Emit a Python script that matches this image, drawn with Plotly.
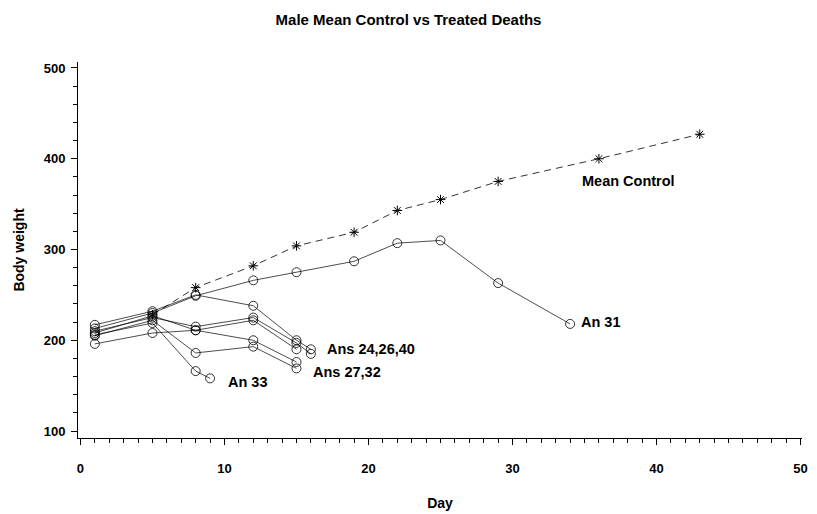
import plotly.graph_objects as go

# ---- data ----
ctrl_days = [5, 8, 12, 15, 19, 22, 25, 29, 36, 43]
ctrl_wt = [228, 258, 282, 304, 319, 343, 355, 375, 400, 427]

an31_days = [1, 5, 8, 12, 15, 19, 22, 25, 29, 34]
an31_wt = [213, 230, 249, 266, 275, 287, 307, 310, 263, 218]

an24_days = [1, 5, 8, 12, 15, 16]
an24_wt = [217, 232, 250, 238, 200, 190]

an26_days = [1, 5, 8, 12, 15, 16]
an26_wt = [210, 225, 215, 225, 197, 185]

an40_days = [1, 5, 8, 12, 15]
an40_wt = [196, 208, 211, 222, 190]

an27_days = [1, 5, 8, 12, 15]
an27_wt = [208, 227, 211, 200, 176]

an32_days = [1, 5, 8, 12, 15]
an32_wt = [205, 222, 186, 193, 169]

an33_days = [1, 5, 8, 9]
an33_wt = [206, 219, 166, 158]

labels = ["Mean Control", "An 31", "Ans 24,26,40", "Ans 27,32", "An 33"]
label_x = [34.7, 34.6, 17.0, 16.0, 10.1]
label_y = [375, 220, 190, 165, 154]

title = "Male Mean Control vs Treated Deaths"
x_title = "Day"
y_title = "Body weight"
x_ticks = [0, 10, 20, 30, 40, 50]
y_ticks = [100, 200, 300, 400, 500]

FONT = "Liberation Sans, Arial, sans-serif"

fig = go.Figure()

fig.add_trace(go.Scatter(
    x=ctrl_days, y=ctrl_wt, mode="lines+markers", name="Mean Control",
    line=dict(color="black", width=0.8, dash="7px,5px"),
    marker=dict(symbol="asterisk-open", size=8, color="black",
                line=dict(color="black", width=1)),
))

for d, w, nm in [(an31_days, an31_wt, "An 31"), (an24_days, an24_wt, "An 24"),
                 (an26_days, an26_wt, "An 26"), (an40_days, an40_wt, "An 40"),
                 (an27_days, an27_wt, "An 27"), (an32_days, an32_wt, "An 32"),
                 (an33_days, an33_wt, "An 33")]:
    fig.add_trace(go.Scatter(
        x=d, y=w, mode="lines+markers", name=nm,
        line=dict(color="black", width=0.7),
        marker=dict(symbol="circle-open", size=9, color="black",
                    line=dict(color="black", width=0.8)),
    ))

for t, lx, ly in zip(labels, label_x, label_y):
    fig.add_annotation(x=lx, y=ly, text=t, showarrow=False, xanchor="left",
                       yanchor="middle",
                       font=dict(family=FONT, size=14.5, color="black", weight="bold"))

fig.update_layout(
    width=817, height=514,
    margin=dict(l=78, r=15, t=62, b=76),
    paper_bgcolor="white", plot_bgcolor="white",
    showlegend=False,
    title=dict(text=title, x=0.5, xref="container", y=1 - 20 / 514,
               yref="container", yanchor="middle", xanchor="center",
               font=dict(family=FONT, size=15, color="black", weight="bold")),
    font=dict(family=FONT, color="black"),
)

fig.update_xaxes(
    range=[-0.17, 50.1], showgrid=False, zeroline=False, automargin=False,
    showline=True, linecolor="black", linewidth=1,
    tickmode="array", tickvals=x_ticks, ticktext=[str(v) for v in x_ticks],
    ticks="outside", ticklen=6, tickwidth=1, tickcolor="black",
    ticklabelstandoff=12,
    minor=dict(dtick=1, tick0=0, ticks="outside", ticklen=4, tickwidth=1,
               tickcolor="black", showgrid=False),
    tickfont=dict(family=FONT, size=13, color="black", weight="bold"),
    title=dict(text=x_title, standoff=23,
               font=dict(family=FONT, size=14, color="black", weight="bold")),
)

fig.update_yaxes(
    range=[92.3, 506.6], showgrid=False, zeroline=False, automargin=False,
    showline=True, linecolor="black", linewidth=1,
    tickmode="array", tickvals=y_ticks, ticktext=[str(v) for v in y_ticks],
    ticks="outside", ticklen=6, tickwidth=1, tickcolor="black",
    ticklabelstandoff=3,
    minor=dict(dtick=20, tick0=100, ticks="outside", ticklen=4, tickwidth=1,
               tickcolor="black", showgrid=False),
    tickfont=dict(family=FONT, size=13, color="black", weight="bold"),
    title=dict(text=y_title, standoff=15,
               font=dict(family=FONT, size=14, color="black", weight="bold")),
)

fig.write_html("out.html")
